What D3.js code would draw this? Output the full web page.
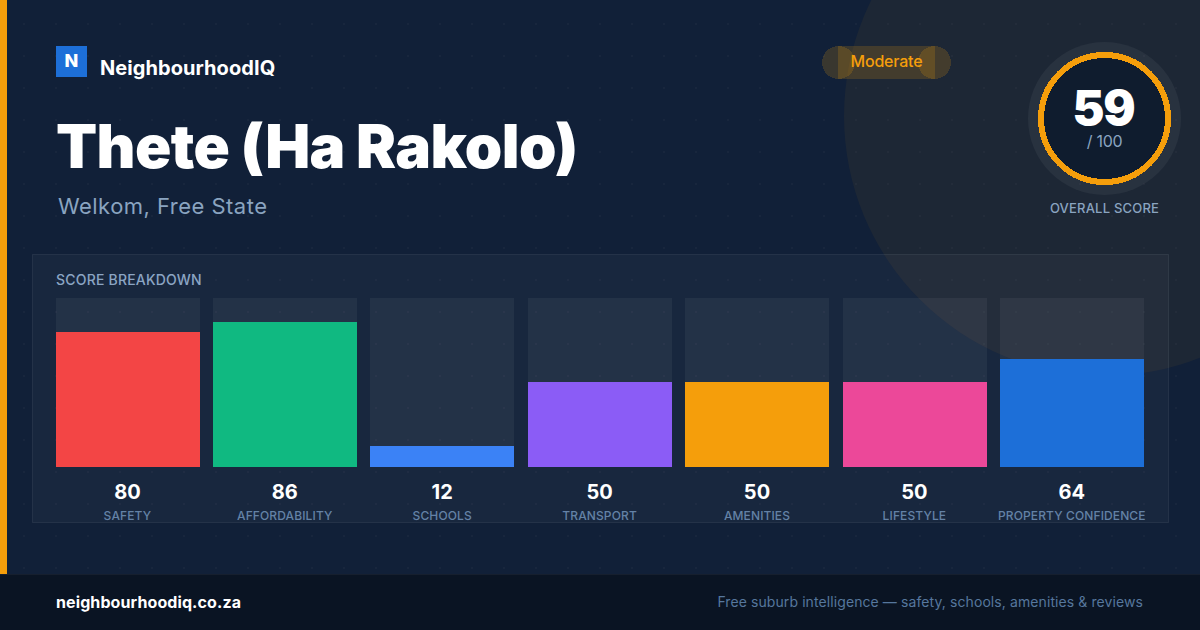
<!DOCTYPE html>
<html>
<head>
<meta charset="utf-8">
<script src="https://cdn.jsdelivr.net/npm/d3@7"></script>
<style>
  html, body { margin: 0; padding: 0; background: #112038; overflow: hidden; }
  svg { display: block; font-family: Inter, sans-serif; }
</style>
</head>
<body>
<div id="chart"></div>
<script>
/* ── Data ── */
const categories = ['SAFETY', 'AFFORDABILITY', 'SCHOOLS', 'TRANSPORT', 'AMENITIES', 'LIFESTYLE', 'PROPERTY CONFIDENCE'];
const scores     = [80, 86, 12, 50, 50, 50, 64];
const barColors  = ['#f34545', '#10b981', '#3b82f6', '#8b5cf6', '#f59e0b', '#ec4899', '#1d6fd8'];
const overall    = 59;

const W = 1200, H = 630;
const AMBER = '#f59e0b';

const svg = d3.select('#chart').append('svg')
  .attr('width', W).attr('height', H);

/* ── Background, dot grid, big tinted circle ── */
const defs = svg.append('defs');
const dots = defs.append('pattern').attr('id', 'dots')
  .attr('patternUnits', 'userSpaceOnUse')
  .attr('width', 32).attr('height', 32);
dots.append('circle').attr('cx', 24).attr('cy', 24).attr('r', 1)
  .attr('fill', 'rgba(255,255,255,0.035)');

svg.append('rect').attr('width', W).attr('height', H).attr('fill', '#112038');
svg.append('rect').attr('width', W).attr('height', H).attr('fill', 'url(#dots)');
svg.append('circle').attr('cx', 1104).attr('cy', 116).attr('r', 260)
  .attr('fill', AMBER).attr('fill-opacity', 0.055);
svg.append('rect').attr('width', 7).attr('height', 574).attr('fill', AMBER);

/* ── Brand ── */
svg.append('rect').attr('x', 56).attr('y', 46).attr('width', 31).attr('height', 31).attr('fill', '#1d6fd8');
svg.append('text').attr('x', 71.5).attr('y', 67).attr('text-anchor', 'middle')
  .attr('font-size', 18).attr('font-weight', 800).attr('fill', '#fff').text('N');
svg.append('text').attr('x', 100).attr('y', 75)
  .attr('font-size', 20).attr('font-weight', 700).attr('letter-spacing', 0.07).attr('fill', '#fff').text('NeighbourhoodIQ');

/* ── Title ── */
svg.append('text').attr('x', 56).attr('y', 168)
  .attr('font-size', 60).attr('font-weight', 900).attr('letter-spacing', -0.62).attr('fill', '#fff')
  .text('Thete (Ha Rakolo)');
svg.append('text').attr('x', 58).attr('y', 214)
  .attr('font-size', 22).attr('letter-spacing', 0.47).attr('fill', '#8aa4c0').text('Welkom, Free State');

/* ── Rating pill: rect plus two overlapping end circles ── */
const pill = svg.append('g').attr('fill', AMBER).attr('fill-opacity', 0.18).attr('shape-rendering', 'crispEdges');
pill.append('rect').attr('x', 838).attr('y', 46).attr('width', 97).attr('height', 33);
pill.append('circle').attr('cx', 838.5).attr('cy', 62.5).attr('r', 16.5);
pill.append('circle').attr('cx', 934.5).attr('cy', 62.5).attr('r', 16.5);
svg.append('text').attr('x', 886.5).attr('y', 67).attr('text-anchor', 'middle')
  .attr('font-size', 16).attr('font-weight', 500).attr('letter-spacing', -0.2).attr('fill', AMBER).text('Moderate');

/* ── Overall score ring ── */
const ringX = 1104.5, ringY = 118.5;
svg.append('circle').attr('cx', ringX).attr('cy', ringY).attr('r', 76.5)
  .attr('fill', 'rgba(255,255,255,0.05)');
svg.append('circle').attr('cx', ringX).attr('cy', ringY).attr('r', 63.5)
  .attr('fill', '#0f1c2e').attr('stroke', AMBER).attr('stroke-width', 6)
  .attr('shape-rendering', 'crispEdges');
svg.append('text').attr('x', ringX - 1).attr('y', 125).attr('text-anchor', 'middle')
  .attr('font-size', 48).attr('font-weight', 900).attr('letter-spacing', -1.3).attr('fill', '#fff').text(overall);
svg.append('text').attr('x', ringX).attr('y', 147).attr('text-anchor', 'middle')
  .attr('font-size', 16).attr('letter-spacing', -0.3).attr('fill', '#8aa4c0').text('/ 100');
svg.append('text').attr('x', ringX).attr('y', 213).attr('text-anchor', 'middle')
  .attr('font-size', 13).attr('font-weight', 500).attr('letter-spacing', 0.2).attr('fill', '#8aa4c0').text('OVERALL SCORE');

/* ── Breakdown panel ── */
svg.append('rect').attr('x', 32.5).attr('y', 254.5).attr('width', 1136).attr('height', 268)
  .attr('fill', 'rgba(255,255,255,0.03)').attr('stroke', 'rgba(255,255,255,0.07)');
svg.append('text').attr('x', 56).attr('y', 285)
  .attr('font-size', 14).attr('font-weight', 500).attr('letter-spacing', 0.2).attr('fill', '#8ba5c4').text('SCORE BREAKDOWN');

/* ── Bars ── */
const x = d3.scaleBand().domain(categories).range([55.6, 1144]).paddingInner(0.0851);
const y = d3.scaleLinear().domain([0, 100]).range([466.6, 298]);
const labelX = d => x(d) + x.bandwidth() / 2 - 0.2;

const cols = svg.append('g').selectAll('g')
  .data(categories)
  .join('g');

cols.append('rect')
  .attr('x', d => x(d)).attr('width', x.bandwidth())
  .attr('y', y(100)).attr('height', y(0) - y(100))
  .attr('shape-rendering', 'crispEdges')
  .attr('fill', 'rgba(255,255,255,0.05)');

cols.append('rect')
  .attr('x', d => x(d)).attr('width', x.bandwidth())
  .attr('y', (d, i) => y(scores[i]))
  .attr('height', (d, i) => y(0) - y(scores[i]))
  .attr('shape-rendering', 'crispEdges')
  .attr('fill', (d, i) => barColors[i]);

cols.append('text')
  .attr('x', labelX).attr('y', 498.5)
  .attr('text-anchor', 'middle')
  .attr('font-size', 20).attr('font-weight', 700).attr('fill', '#fff')
  .text((d, i) => scores[i]);

cols.append('text')
  .attr('x', labelX).attr('y', 520)
  .attr('text-anchor', 'middle')
  .attr('font-size', 12).attr('font-weight', 500).attr('letter-spacing', 0.12).attr('fill', '#6482a6')
  .text(d => d);

/* ── Footer ── */
svg.append('rect').attr('y', 574).attr('width', W).attr('height', 56).attr('fill', '#0a1423');
svg.append('rect').attr('y', 574).attr('width', W).attr('height', 1).attr('fill', 'rgba(255,255,255,0.05)');
svg.append('text').attr('x', 56).attr('y', 608)
  .attr('font-size', 16).attr('font-weight', 700).attr('letter-spacing', 0.1).attr('fill', '#fff').text('neighbourhoodiq.co.za');
svg.append('text').attr('x', 1143).attr('y', 607).attr('text-anchor', 'end')
  .attr('font-size', 14).attr('letter-spacing', 0.09).attr('fill', '#56779d').text('Free suburb intelligence — safety, schools, amenities & reviews');
</script>
</body>
</html>
